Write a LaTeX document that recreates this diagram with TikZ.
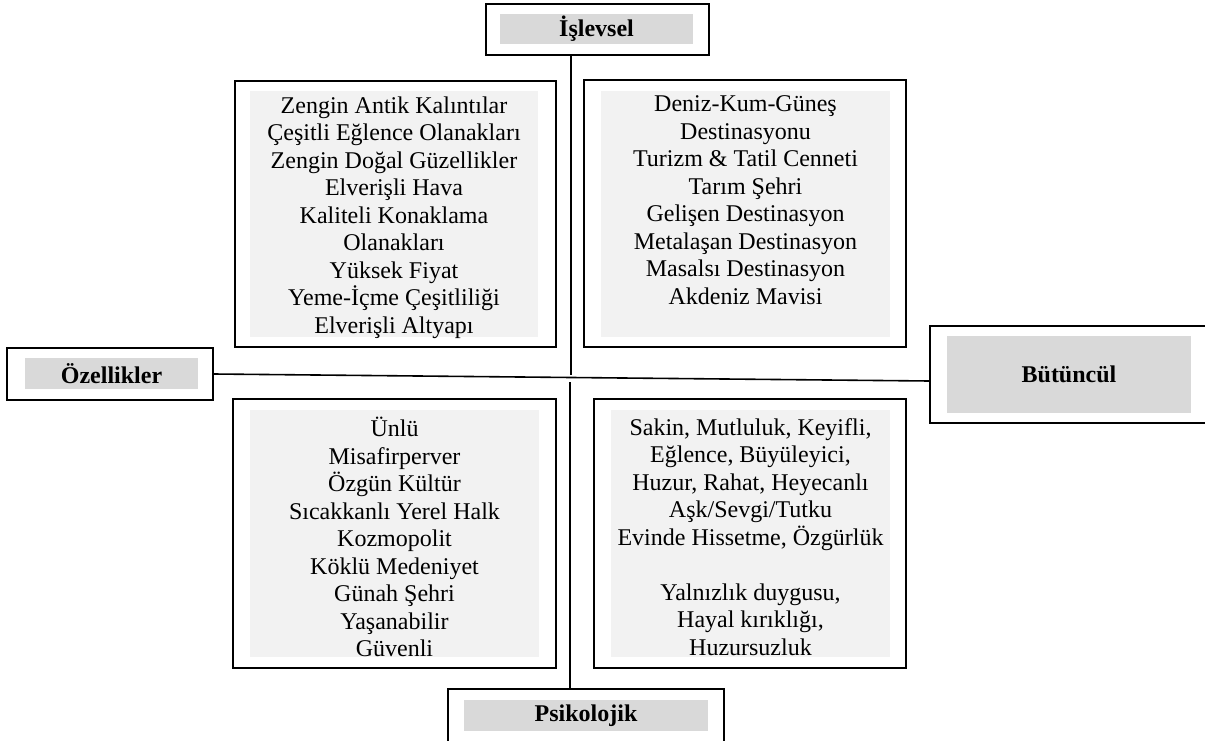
\documentclass[tikz,border=0pt]{standalone}
\usepackage{fontspec}
\setmainfont{Liberation Serif}
\usetikzlibrary{fit}
\definecolor{headgray}{HTML}{D9D9D9}
\definecolor{itemgray}{HTML}{F2F2F2}
\tikzset{
 frame/.style={draw=black,line width=1pt,inner sep=0pt},
 headfill/.style={fill=headgray,inner sep=0pt},
 headtext/.style={inner sep=0pt,font=\fontsize{12}{13.75}\selectfont\bfseries},
 itemfill/.style={fill=itemgray,inner sep=0pt},
 itemtext/.style={align=center,inner sep=0pt,font=\fontsize{12}{13.75}\selectfont},
 axis/.style={draw=black,line width=1pt}
}
\begin{document}
\begin{tikzpicture}[x=0.5pt,y=-0.5pt]
 \useasboundingbox (0,0) rectangle (1205,740);
 \clip (0,0) rectangle (1205,740);
 % heading boxes
 \node (islevselout) [frame,fit={(486,4) (709,55)}] {};
 \node (islevselfill) [headfill,fit={(500,14) (693,44)}] {};
 \node (islevsel) [headtext] at (islevselfill.center) {İşlevsel};
 \node (ozelliklerout) [frame,fit={(7,348) (213,400)}] {};
 \node (ozelliklerfill) [headfill,fit={(25,358) (198,389)}] {};
 \node (ozellikler) [headtext] at (ozelliklerfill.center) {Özellikler};
 \node (butunculout) [frame,fit={(930,326) (1220,423)}] {};
 \node (butunculfill) [headfill,fit={(947,336) (1191,413)}] {};
 \node (butuncul) [headtext] at (butunculfill.center) {Bütüncül};
 \node (psikolojikout) [frame,fit={(448,689) (724,760)}] {};
 \node (psikolojikfill) [headfill,fit={(464,700) (708,731)}] {};
 \node (psikolojik) [headtext] at (psikolojikfill.center) {Psikolojik};
 % item boxes
 \node (ltout) [frame,fit={(235,81) (556,347)}] {};
 \node (ltfill) [itemfill,fit={(250,91) (538,337)}] {};
 \node (rtout) [frame,fit={(584,80) (906,347)}] {};
 \node (rtfill) [itemfill,fit={(601,91) (890,337)}] {};
 \node (lbout) [frame,fit={(233,399) (556,668)}] {};
 \node (lbfill) [itemfill,fit={(250,410) (539,657)}] {};
 \node (rbout) [frame,fit={(594,399) (906,668)}] {};
 \node (rbfill) [itemfill,fit={(611,410) (890,657)}] {};
 \node (lttext) [itemtext] at (394,217.5) {Zengin Antik Kalıntılar\\Çeşitli Eğlence Olanakları\\Zengin Doğal Güzellikler\\Elverişli Hava\\Kaliteli Konaklama\\Olanakları\\Yüksek Fiyat\\Yeme-İçme Çeşitliliği\\Elverişli Altyapı};
 \node (rttext) [itemtext] at (745.5,200) {Deniz-Kum-Güneş\\Destinasyonu\\Turizm \& Tatil Cenneti\\Tarım Şehri\\Gelişen Destinasyon\\Metalaşan Destinasyon\\Masalsı Destinasyon\\Akdeniz Mavisi};
 \node (lbtext) [itemtext] at (394.5,537) {Ünlü\\Misafirperver\\Özgün Kültür\\Sıcakkanlı Yerel Halk\\Kozmopolit\\Köklü Medeniyet\\Günah Şehri\\Yaşanabilir\\Güvenli};
 \node (rbtext) [itemtext] at (750.5,537) {Sakin, Mutluluk, Keyifli,\\Eğlence, Büyüleyici,\\Huzur, Rahat, Heyecanlı\\Aşk/Sevgi/Tutku\\Evinde Hissetme, Özgürlük\\[13.75pt]Yalnızlık duygusu,\\Hayal kırıklığı,\\Huzursuzluk};
 % axes
 \coordinate (vtop) at (571,375);
 \coordinate (vbot) at (570,382);
 \coordinate (hend) at (930,381);
 \draw[axis] (islevselout.south -| vtop) -- (vtop);
 \draw[axis] (vbot) -- (vbot |- psikolojikout.north);
 \draw[axis,line width=0.8pt] (ozelliklerout.east) -- (hend);
\end{tikzpicture}
\end{document}
